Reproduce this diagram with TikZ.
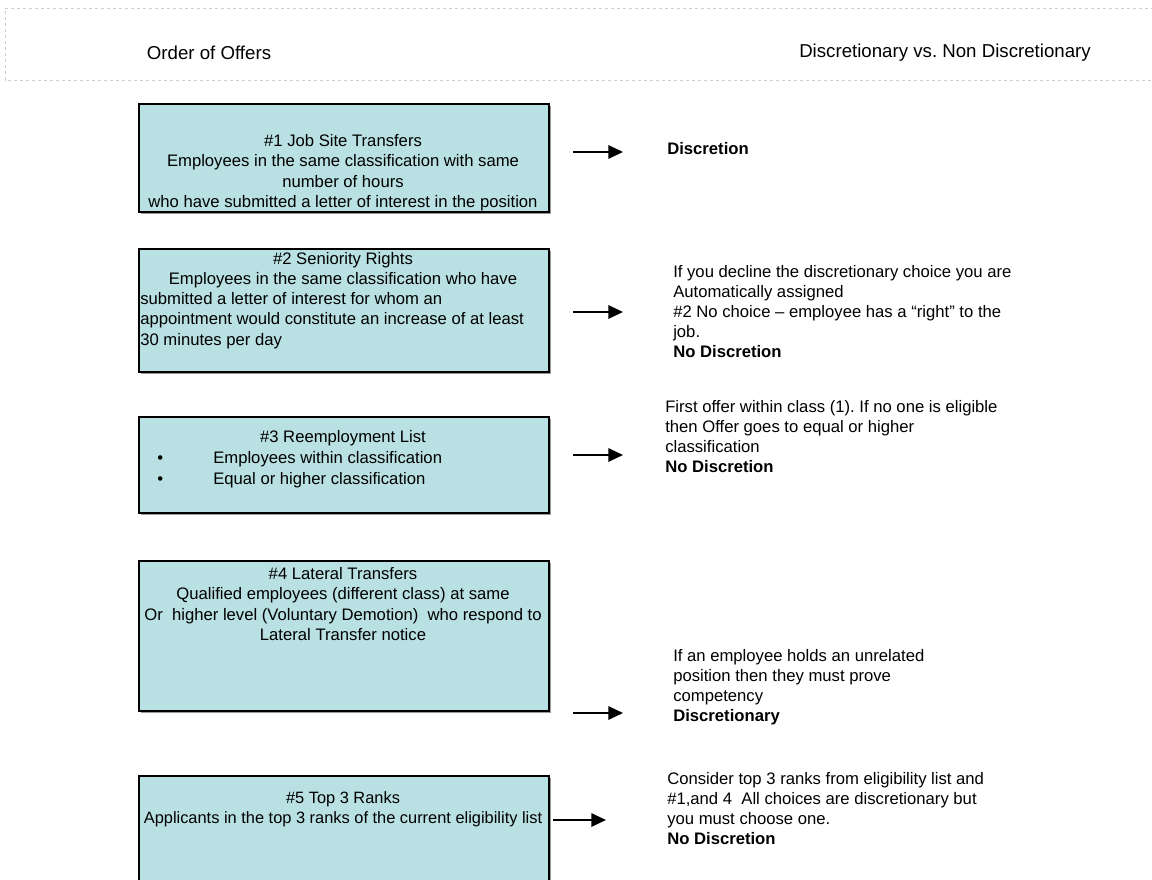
\documentclass[tikz,border=0pt]{standalone}
\usepackage{fontspec}
\setmainfont{Liberation Sans}
\usetikzlibrary{arrows.meta,shadows}
\frenchspacing

\definecolor{boxfill}{RGB}{185,224,226}
\definecolor{hdrline}{RGB}{205,205,205}

\tikzset{
  offerbox/.style={draw=black, line width=1.5pt, fill=boxfill, anchor=north west,
    minimum width=307.5pt, inner sep=0pt,
    drop shadow={shadow xshift=1.2pt, shadow yshift=-1.2pt, fill=gray!80, opacity=1}},
  boxtext/.style={anchor=north, align=center, inner sep=0pt, font=\fontsize{12.5}{15.3}\selectfont},
  sidetext/.style={anchor=north west, align=left, inner sep=0pt, font=\fontsize{12.5}{15}\selectfont},
  offerarrow/.style={-{Triangle[length=11pt,width=10pt]}, line width=1.5pt},
  hdr/.style={font=\fontsize{14}{16}\selectfont, inner sep=0pt}
}

\begin{document}
\begin{tikzpicture}[x=0.75pt,y=-0.75pt]
\useasboundingbox (0,0) rectangle (1152,880);

% header strip
\draw[hdrline, dash pattern=on 2.5pt off 2pt, line width=0.5pt] (1160,8) -- (5,8) -- (5,80) -- (1160,80);
\node[hdr] (h1) at (209,53) {Order of Offers};
\node[hdr] (h2) at (945,53) {Discretionary vs. Non Discretionary};

% the five boxes
\node[offerbox, minimum height=81pt]    (b1) at (138,103) {};
\node[offerbox, minimum height=92.25pt] (b2) at (138,248) {};
\node[offerbox, minimum height=72pt]    (b3) at (138,416) {};
\node[offerbox, minimum height=112.5pt] (b4) at (138,560) {};
\node[offerbox, minimum height=95pt]    (b5) at (138,775) {};

% box texts
\begin{scope}
\clip (b1.north west) rectangle (b1.south east);
\node[boxtext] (t1) at (343,134) {\#1 Job Site Transfers\\
  Employees in the same classification with same\\
  number of hours\\
  who have submitted a letter of interest in the position};
\end{scope}

\node[boxtext] (t2) at (343,252) {\#2 Seniority Rights\\
  Employees in the same classification who have};
\node[sidetext, font=\fontsize{12.5}{15.3}\selectfont] (t2x) at (140,292) {submitted a letter of interest for whom an\\
  appointment would constitute an increase of at least\\
  30 minutes per day};

\node[boxtext] (t3) at (343,430) {\#3 Reemployment List};
\node[sidetext, font=\fontsize{12.5}{15.5}\selectfont] (t3x) at (157,451) {\makebox[42pt][l]{\textbullet}Employees within classification\\
  \makebox[42pt][l]{\textbullet}Equal or higher classification};

\node[boxtext] (t4) at (343,567) {\#4 Lateral Transfers\\
  Qualified employees (different class) at same\\
  Or\ \ higher level (Voluntary Demotion)\ \ who respond to\\
  Lateral Transfer notice};

\node[boxtext, font=\fontsize{12.3}{15.3}\selectfont] (t5) at (343,791) {\#5 Top 3 Ranks\\
  Applicants in the top 3 ranks of the current eligibility list};

% right hand column
\node[sidetext] (d1) at (667,142) {\textbf{Discretion}};
\node[sidetext] (d2) at (673,265) {If you decline the discretionary choice you are\\
  Automatically assigned\\
  \#2 No choice -- employee has a “right” to the\\
  job.\\
  \textbf{No Discretion}};
\node[sidetext] (d3) at (665,400) {First offer within class (1). If no one is eligible\\
  then Offer goes to equal or higher\\
  classification\\
  \textbf{No Discretion}};
\node[sidetext] (d4) at (673,649) {If an employee holds an unrelated\\
  position then they must prove\\
  competency\\
  \textbf{Discretionary}};
\node[sidetext] (d5) at (667,772) {Consider top 3 ranks from eligibility list and\\
  \#1,and 4\ \ All choices are discretionary but\\
  you must choose one.\\
  \textbf{No Discretion}};

% arrows
\foreach \n/\xa/\xb/\y in {1/573/623/152,2/573/623/312,3/573/623/455,4/573/623/713,5/553/606/820} {
  \coordinate (a\n s) at (\xa,\y);
  \coordinate (a\n e) at (\xb,\y);
  \draw[offerarrow] (a\n s) -- (a\n e);
}

\end{tikzpicture}
\end{document}
